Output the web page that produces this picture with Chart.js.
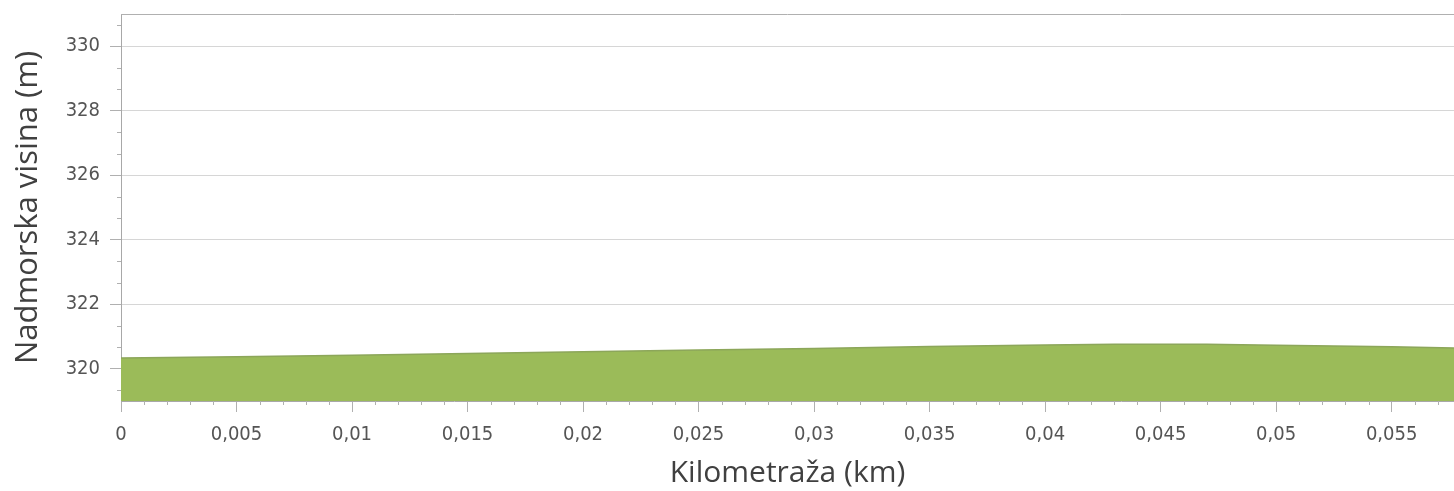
<!DOCTYPE html>
<html>
<head>
<meta charset="utf-8">
<script src="https://cdn.jsdelivr.net/npm/chart.js@4.4.1/dist/chart.umd.min.js"></script>
<style>
  html, body { margin: 0; padding: 0; background: #fff; }
  #wrap { width: 1454px; height: 491px; }
</style>
</head>
<body>
<div id="wrap"><canvas id="profil"></canvas></div>
<script>
// kilometraza (km) i nadmorska visina (m), procitano sa slike
var distances = [0, 0.005, 0.01, 0.015, 0.02, 0.025, 0.03, 0.035, 0.04, 0.043, 0.047, 0.05, 0.055, 0.0577];
var elevations = [320.33, 320.37, 320.42, 320.47, 320.53, 320.58, 320.63, 320.69, 320.74, 320.76, 320.76, 320.73, 320.68, 320.64];

var xTicks = [0, 0.005, 0.01, 0.015, 0.02, 0.025, 0.03, 0.035, 0.04, 0.045, 0.05, 0.055];
var xTickLabels = ['0', '0,005', '0,01', '0,015', '0,02', '0,025', '0,03', '0,035', '0,04', '0,045', '0,05', '0,055'];
var yTicks = [320, 322, 324, 326, 328, 330];

var tickFont = { family: '"DejaVu Sans Condensed", "DejaVu Sans", sans-serif', size: 20 };

// sitne crtice na osama + gornja linija okvira
var minorTicks = {
  id: 'minorTicks',
  afterDraw: function (chart) {
    var ctx = chart.ctx;
    var x = chart.scales.x, y = chart.scales.y;
    var area = chart.chartArea;
    ctx.save();
    ctx.strokeStyle = '#b0b0b0';
    ctx.lineWidth = 1;
    ctx.beginPath();
    ctx.moveTo(area.left, area.top + 0.5);
    ctx.lineTo(area.right, area.top + 0.5);
    ctx.stroke();
    ctx.beginPath();
    for (var i = 1; i * 0.001 <= x.max; i++) {
      if (i % 5 === 0) continue;
      var px = Math.round(x.getPixelForValue(i * 0.001)) + 0.5;
      ctx.moveTo(px, area.bottom);
      ctx.lineTo(px, area.bottom + 4);
    }
    for (var j = 0; 318 + j * 2 / 3 <= y.max + 0.001; j++) {
      var v = 318 + j * 2 / 3;
      if (v < y.min || j % 3 === 0) continue;
      var py = Math.round(y.getPixelForValue(v)) + 0.5;
      ctx.moveTo(area.left - 4, py);
      ctx.lineTo(area.left, py);
    }
    ctx.stroke();
    ctx.restore();
  }
};

new Chart(document.getElementById('profil'), {
  type: 'line',
  data: {
    datasets: [{
      data: distances.map(function (d, i) { return { x: d, y: elevations[i] }; }),
      backgroundColor: '#9bbb59',
      borderColor: '#8ca65a',
      borderWidth: 1.5,
      fill: 'start',
      pointRadius: 0,
      tension: 0
    }]
  },
  options: {
    responsive: true,
    maintainAspectRatio: false,
    animation: false,
    layout: { padding: { top: 14, right: 0, left: 0, bottom: 0 } },
    plugins: { legend: { display: false }, tooltip: { enabled: false } },
    scales: {
      x: {
        type: 'linear',
        min: 0,
        max: 0.0577,
        afterBuildTicks: function (scale) {
          scale.ticks = xTicks.map(function (v) { return { value: v }; });
        },
        afterFit: function (scale) {
          scale.height = 90;
          scale.paddingLeft = 0;
          scale.paddingRight = 0;
        },
        ticks: {
          autoSkip: false,
          maxRotation: 0,
          padding: 11,
          color: '#555',
          font: tickFont,
          callback: function (v, i) { return xTickLabels[i]; }
        },
        grid: { drawOnChartArea: false, tickLength: 11, color: '#b0b0b0' },
        border: { color: '#a8a8a8' },
        title: {
          display: true,
          text: 'Kilometraža (km)',
          color: '#404040',
          font: { family: '"Open Sans", sans-serif', size: 30 },
          padding: { top: 0, bottom: 0 }
        }
      },
      y: {
        min: 319,
        max: 331,
        afterBuildTicks: function (scale) {
          scale.ticks = yTicks.map(function (v) { return { value: v }; });
        },
        afterFit: function (scale) {
          scale.width = 121;
          scale.paddingTop = 0;
          scale.paddingBottom = 0;
        },
        ticks: {
          padding: 10,
          color: '#555',
          font: tickFont
        },
        grid: { color: '#d6d6d6', tickColor: '#b0b0b0', tickLength: 11 },
        border: { color: '#a8a8a8' },
        title: {
          display: true,
          text: 'Nadmorska visina (m)',
          color: '#404040',
          font: { family: '"Open Sans", sans-serif', size: 31 },
          padding: { top: 10, bottom: 0 }
        }
      }
    }
  },
  plugins: [minorTicks]
});
</script>
</body>
</html>
